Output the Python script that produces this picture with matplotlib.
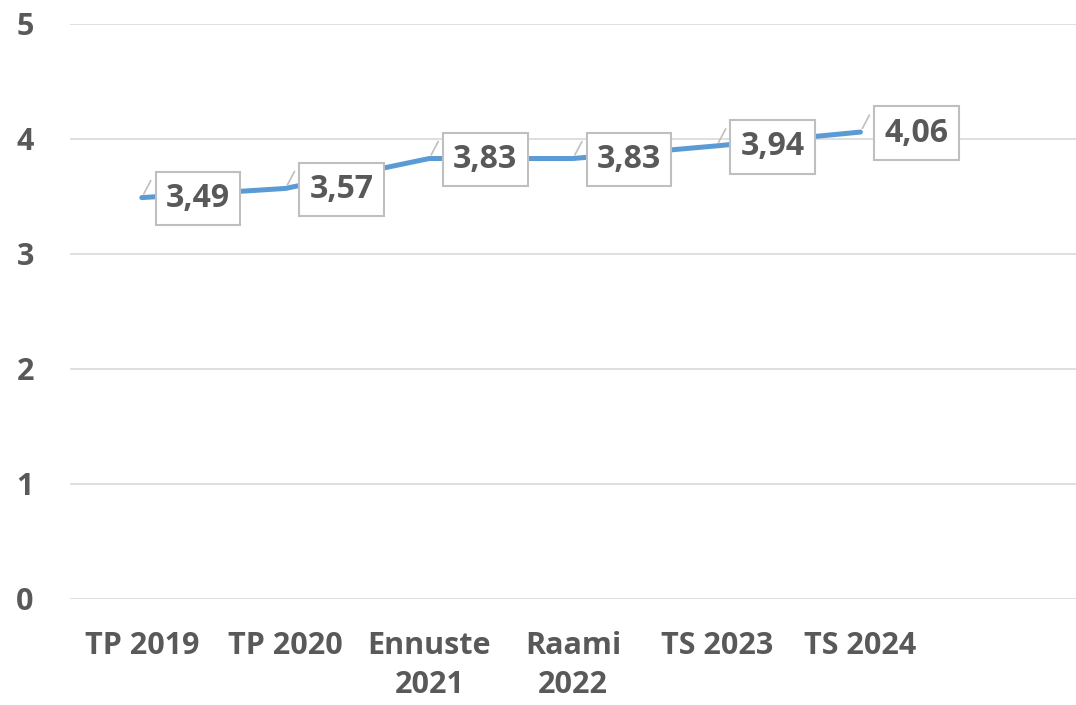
import numpy as np
import matplotlib.pyplot as plt

categories = ["TP 2019", "TP 2020", "Ennuste\n2021", "Raami\n2022", "TS 2023", "TS 2024"]
values = [3.49, 3.57, 3.83, 3.83, 3.94, 4.06]
labels = ["3,49", "3,57", "3,83", "3,83", "3,94", "4,06"]

plt.rcParams['font.family'] = ['Open Sans', 'DejaVu Sans']
txt = '#595959'

fig = plt.figure(figsize=(10.76, 7.05), dpi=100)
ax = fig.add_axes([0.065, 0.1504, 0.935, 0.8156])

x = np.arange(len(categories))
ax.plot(x, values, color='#5B9BD5', linewidth=3.6, solid_capstyle='round', zorder=3)

for xi, v, lab in zip(x, values, labels):
    # leader line
    ax.annotate('', xy=(xi, v), xytext=(9, 17), textcoords='offset pixels',
                arrowprops=dict(arrowstyle='-', color='#BFBFBF', lw=1.2,
                                shrinkA=0, shrinkB=3), zorder=4)
    ax.annotate(lab, xy=(xi, v), xytext=(56, -1), textcoords='offset pixels',
                ha='center', va='center', fontsize=23, fontweight='bold', color=txt,
                bbox=dict(boxstyle='square,pad=0.32', fc='white', ec='#BFBFBF', lw=1.5),
                zorder=5)

ax.set_xlim(-0.5, 6.5)
ax.set_ylim(0, 5)
ax.set_yticks(range(6))
ax.set_xticks(x)
ax.set_xticklabels(categories)
ax.grid(axis='y', color='#D9D9D9', linewidth=1.2)
ax.set_axisbelow(True)
for s in ax.spines.values():
    s.set_visible(False)
ax.tick_params(axis='both', length=0, labelsize=22, labelcolor=txt)
ax.tick_params(axis='y', pad=26)
ax.tick_params(axis='x', pad=23)
for t in ax.get_xticklabels() + ax.get_yticklabels():
    t.set_fontweight('bold')
for t in ax.get_xticklabels():
    t.set_linespacing(1.4)

plt.savefig("out.png", dpi=100)
